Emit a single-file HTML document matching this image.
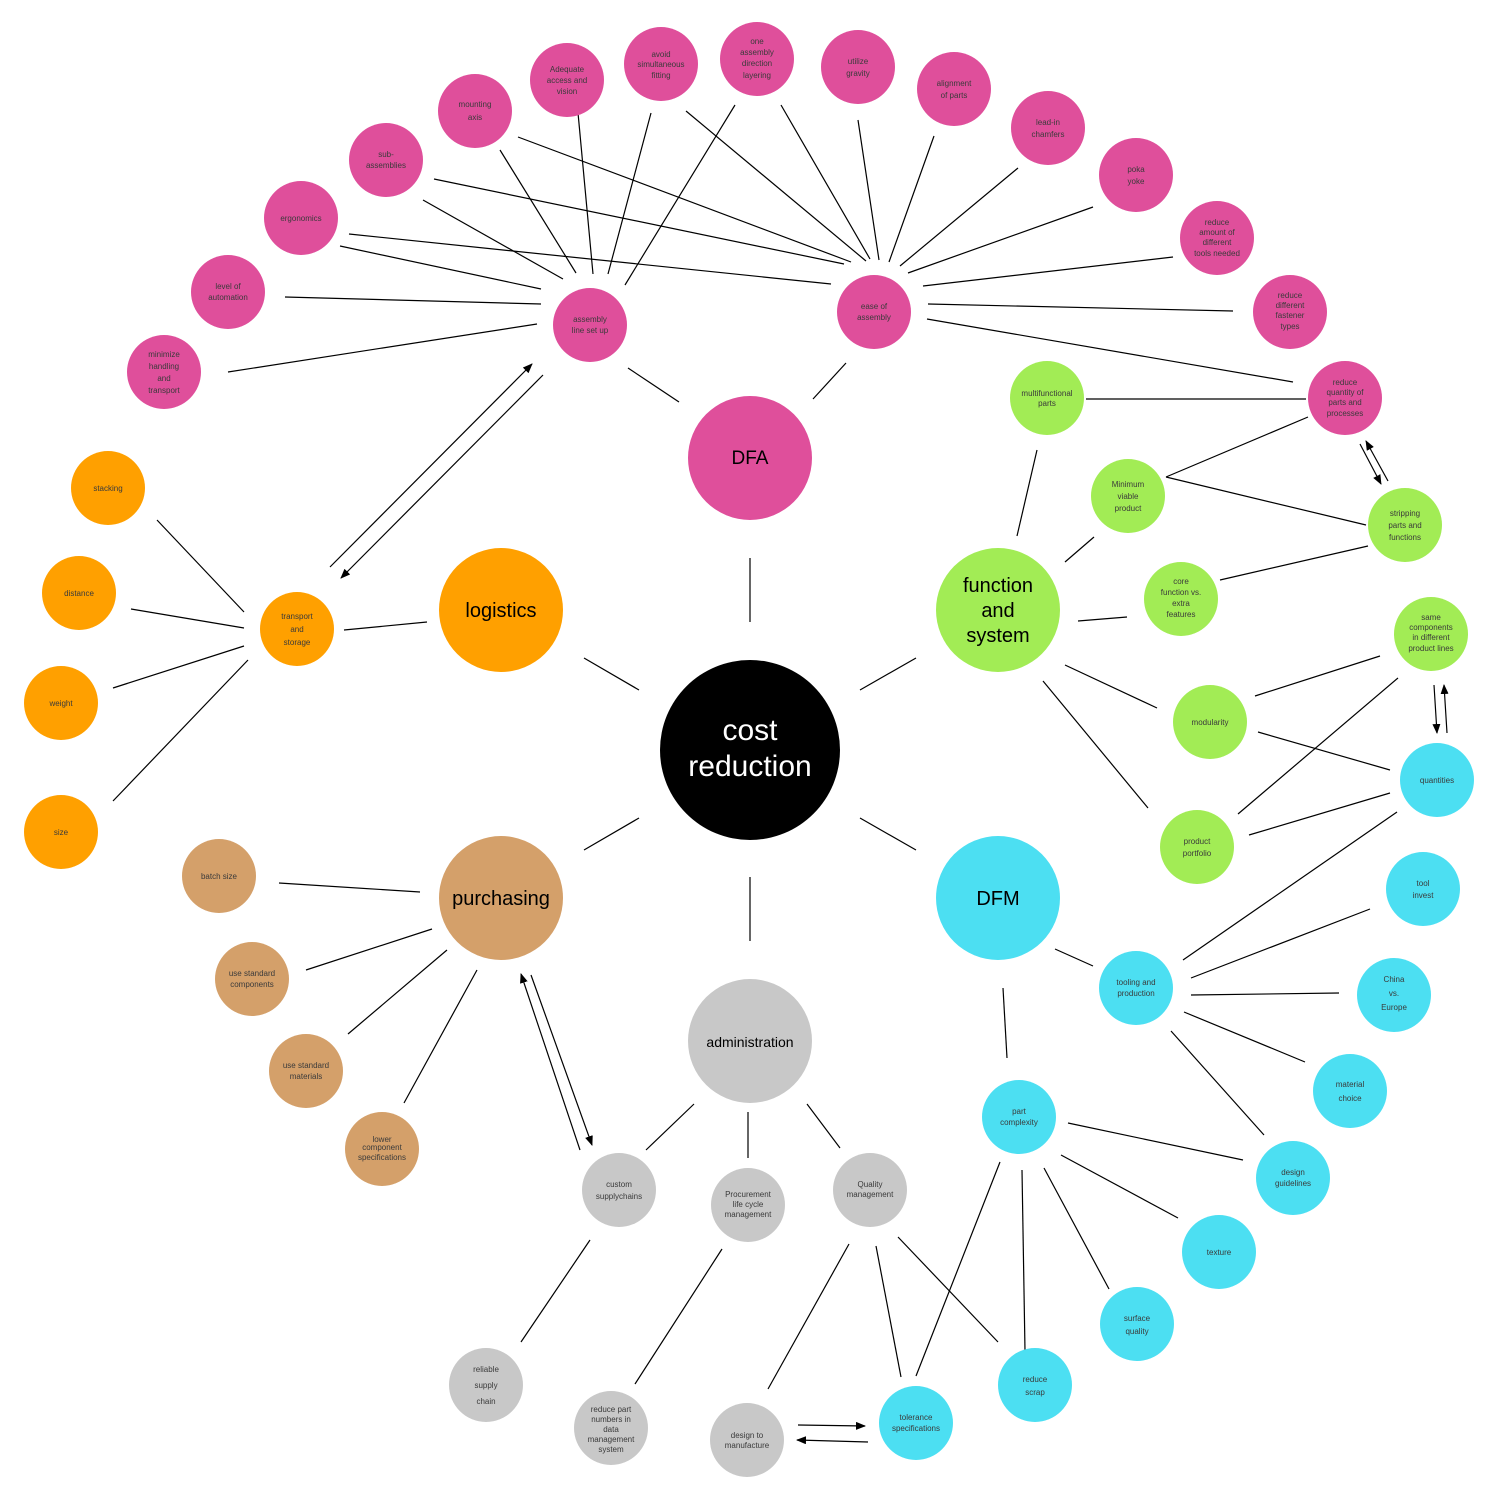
<!DOCTYPE html>
<html><head><meta charset="utf-8"><style>
html,body{margin:0;padding:0;background:#fff;}
svg{display:block;}
.s{font-family:"Liberation Sans",sans-serif;font-size:8px;fill:#3a3a3a;text-anchor:middle;}
.b{font-family:"Liberation Sans",sans-serif;text-anchor:middle;fill:#000;}
line{stroke:#000;stroke-width:1.2;}
</style></head><body>
<svg width="1500" height="1500" viewBox="0 0 1500 1500" xmlns="http://www.w3.org/2000/svg">
<defs><marker id="a" markerWidth="10" markerHeight="8" refX="9" refY="4" orient="auto" markerUnits="userSpaceOnUse"><path d="M0,0 L10,4 L0,8 z" fill="#000"/></marker></defs>
<g>
<!-- center lines -->
<line x1="750" y1="558" x2="750" y2="622" stroke-width="2.5"/>
<line x1="584" y1="658" x2="639" y2="690" stroke-width="2.5"/>
<line x1="860" y1="690" x2="916" y2="658" stroke-width="2.5"/>
<line x1="584" y1="850" x2="639" y2="818" stroke-width="2.5"/>
<line x1="860" y1="818" x2="916" y2="850" stroke-width="2.5"/>
<line x1="750" y1="877" x2="750" y2="941" stroke-width="2.5"/>
<!-- DFA -->
<line x1="628" y1="368" x2="679" y2="402"/><line x1="813" y1="399" x2="846" y2="363"/>
<line x1="228" y1="372" x2="537" y2="324"/><line x1="285" y1="297" x2="541" y2="304"/>
<line x1="340" y1="246" x2="541" y2="289"/><line x1="423" y1="200" x2="563" y2="279"/>
<line x1="500" y1="150" x2="576" y2="273"/><line x1="577" y1="102" x2="593" y2="274"/>
<line x1="651" y1="113" x2="608" y2="274"/><line x1="735" y1="105" x2="625" y2="285"/>
<line x1="349" y1="234" x2="831" y2="284"/><line x1="434" y1="179" x2="844" y2="264"/>
<line x1="518" y1="137" x2="851" y2="262"/><line x1="686" y1="111" x2="866" y2="261"/>
<line x1="781" y1="105" x2="870" y2="259"/><line x1="858" y1="120" x2="879" y2="260"/>
<line x1="934" y1="136" x2="889" y2="262"/><line x1="1018" y1="168" x2="900" y2="266"/>
<line x1="1093" y1="207" x2="908" y2="273"/><line x1="1173" y1="257" x2="923" y2="286"/>
<line x1="1233" y1="311" x2="928" y2="304"/><line x1="1293" y1="382" x2="927" y2="319"/>
<!-- logistics -->
<line x1="344" y1="630" x2="427" y2="622"/><line x1="157" y1="520" x2="244" y2="612"/>
<line x1="131" y1="609" x2="244" y2="628"/><line x1="113" y1="688" x2="244" y2="646"/>
<line x1="113" y1="801" x2="248" y2="660"/>
<line x1="330" y1="567" x2="532" y2="364" marker-end="url(#a)"/>
<line x1="543" y1="375" x2="341" y2="578" marker-end="url(#a)"/>
<!-- function -->
<line x1="1086" y1="399" x2="1306" y2="399" stroke="#777" stroke-width="2"/>
<line x1="1017" y1="536" x2="1037" y2="450"/><line x1="1065" y1="562" x2="1094" y2="537"/>
<line x1="1078" y1="621" x2="1127" y2="617"/><line x1="1065" y1="665" x2="1157" y2="708"/>
<line x1="1043" y1="681" x2="1148" y2="808"/><line x1="1166" y1="477" x2="1308" y2="417"/>
<line x1="1166" y1="477" x2="1366" y2="525"/><line x1="1220" y1="580" x2="1368" y2="546"/>
<line x1="1255" y1="696" x2="1380" y2="656"/><line x1="1258" y1="732" x2="1390" y2="770"/>
<line x1="1238" y1="814" x2="1398" y2="678"/><line x1="1249" y1="835" x2="1390" y2="793"/>
<line x1="1360" y1="444" x2="1381" y2="484" marker-end="url(#a)"/>
<line x1="1388" y1="481" x2="1366" y2="441" marker-end="url(#a)"/>
<line x1="1434" y1="685" x2="1437" y2="733" marker-end="url(#a)"/>
<line x1="1447" y1="733" x2="1444" y2="685" marker-end="url(#a)"/>
<!-- DFM -->
<line x1="1055" y1="949" x2="1093" y2="966"/><line x1="1003" y1="988" x2="1007" y2="1058"/>
<line x1="1183" y1="960" x2="1397" y2="812"/><line x1="1191" y1="978" x2="1370" y2="909"/>
<line x1="1191" y1="995" x2="1339" y2="993"/><line x1="1184" y1="1012" x2="1305" y2="1062"/>
<line x1="1171" y1="1031" x2="1264" y2="1135"/><line x1="1068" y1="1123" x2="1243" y2="1160"/>
<line x1="1061" y1="1155" x2="1178" y2="1218"/><line x1="1044" y1="1168" x2="1109" y2="1289"/>
<line x1="1022" y1="1170" x2="1025" y2="1351"/><line x1="1000" y1="1162" x2="916" y2="1376"/>
<!-- admin -->
<line x1="694" y1="1104" x2="646" y2="1150"/><line x1="748" y1="1112" x2="748" y2="1158"/>
<line x1="807" y1="1104" x2="840" y2="1148"/><line x1="590" y1="1240" x2="521" y2="1342"/>
<line x1="722" y1="1249" x2="635" y2="1384"/><line x1="849" y1="1244" x2="768" y2="1389"/>
<line x1="876" y1="1246" x2="901" y2="1377"/><line x1="898" y1="1237" x2="998" y2="1342"/>
<line x1="798" y1="1425" x2="865" y2="1426" marker-end="url(#a)"/>
<line x1="868" y1="1442" x2="797" y2="1440" marker-end="url(#a)"/>
<!-- purchasing -->
<line x1="279" y1="883" x2="420" y2="892"/><line x1="306" y1="970" x2="432" y2="929"/>
<line x1="348" y1="1034" x2="447" y2="950"/><line x1="404" y1="1103" x2="477" y2="970"/>
<line x1="580" y1="1150" x2="521" y2="974" marker-end="url(#a)"/>
<line x1="531" y1="975" x2="592" y2="1145" marker-end="url(#a)"/>
</g>
<!-- big nodes -->
<circle cx="750" cy="750" r="90" fill="#000"/>
<text class="b" x="750" y="740" font-size="30" fill="#fff" style="fill:#fff">cost</text>
<text class="b" x="750" y="776" font-size="30" style="fill:#fff">reduction</text>
<circle cx="750" cy="458" r="62" fill="#df4f9b"/><text class="b" x="750" y="464" font-size="19">DFA</text>
<circle cx="501" cy="610" r="62" fill="#ffa000"/><text class="b" x="501" y="617" font-size="20">logistics</text>
<circle cx="998" cy="610" r="62" fill="#a2ec55"/><text class="b" x="998" y="592" font-size="20">function</text><text class="b" x="998" y="617" font-size="20">and</text><text class="b" x="998" y="642" font-size="20">system</text>
<circle cx="998" cy="898" r="62" fill="#4cdff2"/><text class="b" x="998" y="905" font-size="20">DFM</text>
<circle cx="501" cy="898" r="62" fill="#d4a06a"/><text class="b" x="501" y="905" font-size="20">purchasing</text>
<circle cx="750" cy="1041" r="62" fill="#c8c8c8"/><text class="b" x="750" y="1047" font-size="14">administration</text>
<!-- small nodes -->
<g fill="#df4f9b">
<circle cx="590" cy="325" r="37"/><circle cx="874" cy="312" r="37"/>
<circle cx="164" cy="372" r="37"/><circle cx="228" cy="292" r="37"/><circle cx="301" cy="218" r="37"/>
<circle cx="386" cy="160" r="37"/><circle cx="475" cy="111" r="37"/><circle cx="567" cy="80" r="37"/>
<circle cx="661" cy="64" r="37"/><circle cx="757" cy="59" r="37"/><circle cx="858" cy="67" r="37"/>
<circle cx="954" cy="89" r="37"/><circle cx="1048" cy="128" r="37"/><circle cx="1136" cy="175" r="37"/>
<circle cx="1217" cy="238" r="37"/><circle cx="1290" cy="312" r="37"/><circle cx="1345" cy="398" r="37"/>
</g>
<g fill="#ffa000">
<circle cx="297" cy="629" r="37"/><circle cx="108" cy="488" r="37"/><circle cx="79" cy="593" r="37"/>
<circle cx="61" cy="703" r="37"/><circle cx="61" cy="832" r="37"/>
</g>
<g fill="#a2ec55">
<circle cx="1047" cy="398" r="37"/><circle cx="1128" cy="496" r="37"/><circle cx="1181" cy="599" r="37"/>
<circle cx="1210" cy="722" r="37"/><circle cx="1197" cy="847" r="37"/><circle cx="1405" cy="525" r="37"/>
<circle cx="1431" cy="634" r="37"/>
</g>
<g fill="#4cdff2">
<circle cx="1437" cy="780" r="37"/><circle cx="1423" cy="889" r="37"/><circle cx="1394" cy="995" r="37"/>
<circle cx="1350" cy="1091" r="37"/><circle cx="1293" cy="1178" r="37"/><circle cx="1219" cy="1252" r="37"/>
<circle cx="1137" cy="1324" r="37"/><circle cx="1035" cy="1385" r="37"/><circle cx="916" cy="1423" r="37"/>
<circle cx="1136" cy="988" r="37"/><circle cx="1019" cy="1117" r="37"/>
</g>
<g fill="#c8c8c8">
<circle cx="619" cy="1190" r="37"/><circle cx="748" cy="1205" r="37"/><circle cx="870" cy="1190" r="37"/>
<circle cx="486" cy="1385" r="37"/><circle cx="611" cy="1428" r="37"/><circle cx="747" cy="1440" r="37"/>
</g>
<g fill="#d4a06a">
<circle cx="219" cy="876" r="37"/><circle cx="252" cy="979" r="37"/><circle cx="306" cy="1071" r="37"/><circle cx="382" cy="1149" r="37"/>
</g>
<!-- small labels -->
<g class="s">
<text x="590" y="322">assembly</text><text x="590" y="333">line set up</text>
<text x="874" y="309">ease of</text><text x="874" y="320">assembly</text>
<text x="164" y="357">minimize</text><text x="164" y="369">handling</text><text x="164" y="381">and</text><text x="164" y="393">transport</text>
<text x="228" y="289">level of</text><text x="228" y="300">automation</text>
<text x="301" y="221">ergonomics</text>
<text x="386" y="157">sub-</text><text x="386" y="168">assemblies</text>
<text x="475" y="107">mounting</text><text x="475" y="120">axis</text>
<text x="567" y="72">Adequate</text><text x="567" y="83">access and</text><text x="567" y="94">vision</text>
<text x="661" y="57">avoid</text><text x="661" y="67">simultaneous</text><text x="661" y="78">fitting</text>
<text x="757" y="44">one</text><text x="757" y="55">assembly</text><text x="757" y="66">direction</text><text x="757" y="78">layering</text>
<text x="858" y="64">utilize</text><text x="858" y="76">gravity</text>
<text x="954" y="86">alignment</text><text x="954" y="98">of parts</text>
<text x="1048" y="125">lead-in</text><text x="1048" y="137">chamfers</text>
<text x="1136" y="172">poka</text><text x="1136" y="184">yoke</text>
<text x="1217" y="225">reduce</text><text x="1217" y="235">amount of</text><text x="1217" y="245">different</text><text x="1217" y="256">tools needed</text>
<text x="1290" y="298">reduce</text><text x="1290" y="308">different</text><text x="1290" y="318">fastener</text><text x="1290" y="329">types</text>
<text x="1345" y="385">reduce</text><text x="1345" y="395">quantity of</text><text x="1345" y="405">parts and</text><text x="1345" y="416">processes</text>
<text x="297" y="619">transport</text><text x="297" y="632">and</text><text x="297" y="645">storage</text>
<text x="108" y="491">stacking</text><text x="79" y="596">distance</text><text x="61" y="706">weight</text><text x="61" y="835">size</text>
<text x="1047" y="396">multifunctional</text><text x="1047" y="406">parts</text>
<text x="1128" y="487">Minimum</text><text x="1128" y="499">viable</text><text x="1128" y="511">product</text>
<text x="1181" y="584">core</text><text x="1181" y="595">function vs.</text><text x="1181" y="606">extra</text><text x="1181" y="617">features</text>
<text x="1210" y="725">modularity</text>
<text x="1197" y="844">product</text><text x="1197" y="856">portfolio</text>
<text x="1405" y="516">stripping</text><text x="1405" y="528">parts and</text><text x="1405" y="540">functions</text>
<text x="1431" y="620">same</text><text x="1431" y="630">components</text><text x="1431" y="640">in different</text><text x="1431" y="651">product lines</text>
<text x="1437" y="783">quantities</text>
<text x="1423" y="886">tool</text><text x="1423" y="898">invest</text>
<text x="1394" y="982">China</text><text x="1394" y="996">vs.</text><text x="1394" y="1010">Europe</text>
<text x="1350" y="1087">material</text><text x="1350" y="1101">choice</text>
<text x="1293" y="1175">design</text><text x="1293" y="1186">guidelines</text>
<text x="1219" y="1255">texture</text>
<text x="1137" y="1321">surface</text><text x="1137" y="1334">quality</text>
<text x="1035" y="1382">reduce</text><text x="1035" y="1395">scrap</text>
<text x="916" y="1420">tolerance</text><text x="916" y="1431">specifications</text>
<text x="1136" y="985">tooling and</text><text x="1136" y="996">production</text>
<text x="1019" y="1114">part</text><text x="1019" y="1125">complexity</text>
<text x="619" y="1187">custom</text><text x="619" y="1199">supplychains</text>
<text x="748" y="1197">Procurement</text><text x="748" y="1207">life cycle</text><text x="748" y="1217">management</text>
<text x="870" y="1187">Quality</text><text x="870" y="1197">management</text>
<text x="486" y="1372">reliable</text><text x="486" y="1388">supply</text><text x="486" y="1404">chain</text>
<text x="611" y="1412">reduce part</text><text x="611" y="1422">numbers in</text><text x="611" y="1432">data</text><text x="611" y="1442">management</text><text x="611" y="1452">system</text>
<text x="747" y="1438">design to</text><text x="747" y="1448">manufacture</text>
<text x="219" y="879">batch size</text>
<text x="252" y="976">use standard</text><text x="252" y="987">components</text>
<text x="306" y="1068">use standard</text><text x="306" y="1079">materials</text>
<text x="382" y="1142">lower</text><text x="382" y="1150">component</text><text x="382" y="1160">specifications</text>
</g>
</svg>
</body></html>
